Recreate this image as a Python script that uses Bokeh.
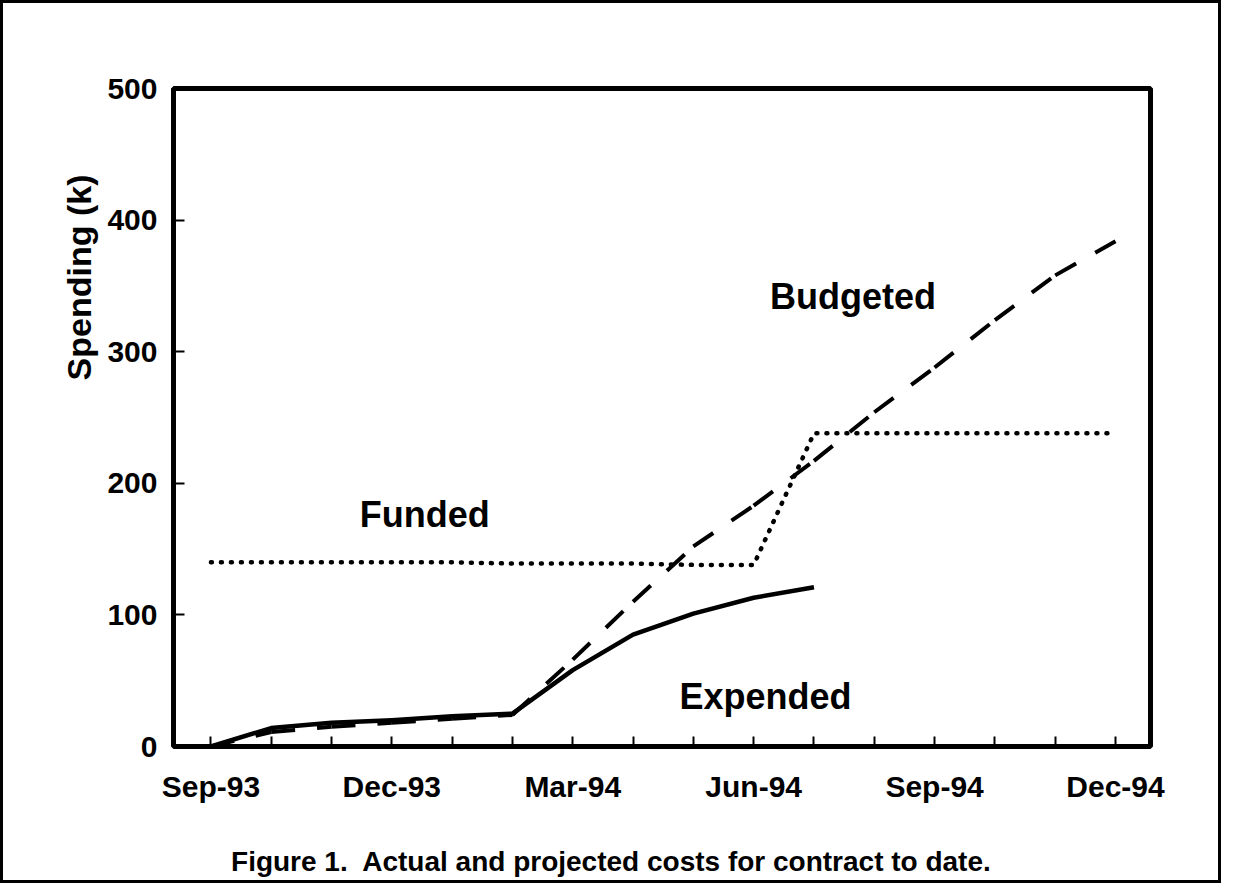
import numpy as np
from bokeh.plotting import figure
from bokeh.models import Range1d, FixedTicker, Label, Title
from bokeh.embed import file_html
from bokeh.resources import INLINE

# ---- data ----
months = ["Sep-93", "Oct-93", "Nov-93", "Dec-93", "Jan-94", "Feb-94", "Mar-94",
          "Apr-94", "May-94", "Jun-94", "Jul-94", "Aug-94", "Sep-94", "Oct-94",
          "Nov-94", "Dec-94"]
tick_labels = ["Sep-93", "Dec-93", "Mar-94", "Jun-94", "Sep-94", "Dec-94"]
y_ticks = [0, 100, 200, 300, 400, 500]

expended = [0, 14, 18, 20, 23, 25, 58, 85, 101, 113, 121]
budgeted = [0, 11, 15, 18, 21, 24, 66, 110, 152, 183, 217, 254, 288, 324, 358, 384]
funded = [140, 140, 140, 140, 140, 139, 139, 139, 138, 138, 238, 238, 238, 238, 238, 238]

series_labels = ["Funded", "Budgeted", "Expended"]
y_title = "Spending (k)"
caption = "Figure 1.\u00a0 Actual and projected costs for contract to date."

FONT = "Liberation Sans"
W, H = 1221, 883

x = list(range(len(months)))

p = figure(width=W, height=H, output_backend="svg", toolbar_location=None,
           x_range=Range1d(-0.62, 15.58), y_range=Range1d(0, 500),
           min_border_left=173, min_border_right=71,
           min_border_top=88, min_border_bottom=137)

p.grid.visible = False
p.background_fill_color = "white"
p.border_fill_color = None
p.outline_line_color = "black"
p.outline_line_width = 5
# thin outer border around the whole figure
p.styles = {"box-shadow": "inset 0 0 0 3px black", "background-color": "white"}

# x axis
xa = p.xaxis[0]
xa.ticker = FixedTicker(ticks=x)
xa.major_label_overrides = {i: (m if m in tick_labels else "") for i, m in enumerate(months)}
xa.axis_line_color = None
xa.major_tick_in = 10
xa.major_tick_out = 0
xa.major_tick_line_width = 2
xa.minor_tick_line_color = None
xa.major_label_standoff = 23
xa.major_label_text_font = FONT
xa.major_label_text_font_size = "30px"
xa.major_label_text_font_style = "bold"
xa.major_label_text_color = "black"
# figure caption below the axis (shifted left with trailing no-break spaces)
xa.axis_label = caption + "\u00a0" * 13
xa.axis_label_standoff = 40
xa.axis_label_text_font = FONT
xa.axis_label_text_font_size = "28px"
xa.axis_label_text_font_style = "bold"
xa.axis_label_text_color = "black"

# y axis
ya = p.yaxis[0]
ya.ticker = FixedTicker(ticks=y_ticks)
ya.axis_line_color = None
ya.major_tick_in = 11
ya.major_tick_out = 0
ya.major_tick_line_width = 2
ya.minor_tick_line_color = None
ya.major_label_standoff = 16
ya.major_label_text_font = FONT
ya.major_label_text_font_size = "30px"
ya.major_label_text_font_style = "bold"
ya.major_label_text_color = "black"

# y axis title (placed toward the top, as in the reference)
p.add_layout(Title(text=y_title, align="right", offset=86, vertical_align="middle",
                   standoff=12, text_font=FONT, text_font_size="34px",
                   text_font_style="bold", text_color="black"), "left")

# series
p.line(x, funded, line_color="black", line_width=4.5, line_dash="1 9", line_cap="round")

bx = [[x[i], x[i + 1]] for i in range(len(budgeted) - 1)]
by = [[budgeted[i], budgeted[i + 1]] for i in range(len(budgeted) - 1)]
p.multi_line(bx, by, line_color="black", line_width=4, line_dash="24 22")

p.line(x[:len(expended)], expended, line_color="black", line_width=4.5, line_join="round")

# in-plot labels
def lab(xv, yv, txt, size="36px", **kw):
    p.add_layout(Label(x=xv, y=yv, text=txt, text_font=FONT, text_font_size=size,
                       text_font_style="bold", text_color="black", **kw))

lab(2.47, 176, series_labels[0], text_baseline="alphabetic")
lab(9.27, 342, series_labels[1], text_baseline="alphabetic")
lab(7.77, 38, series_labels[2], text_baseline="alphabetic")

open("out.html", "w").write(file_html(p, INLINE))
